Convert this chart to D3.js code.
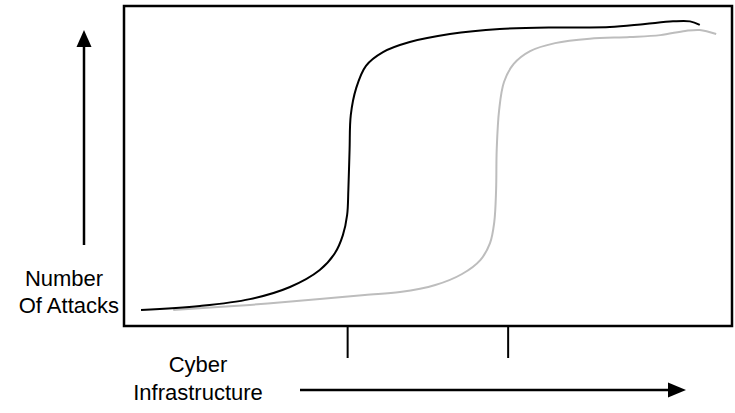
<!DOCTYPE html>
<html><head><meta charset="utf-8">
<script src="https://cdn.jsdelivr.net/npm/d3@7"></script>
<style>body{margin:0;background:#fff}svg{display:block}text{font-family:Arial,"Liberation Sans",sans-serif;fill:#000}</style>
</head><body>
<svg id="c" width="735" height="413"></svg>
<script>
// Data (arbitrary units 0-100 on both axes)
const blackX = [2.8,12.5,20.7,27.3,32.2,34.7,36.0,36.7,36.9,37.1,37.3,38.2,39.8,42.6,47.0,53.6,61.8,71.7,79.9,85.7,90.3,93.1,94.7];
const blackY = [5.0,6.25,8.4,12.2,17.5,22.8,28.4,34.7,42.5,55,65.9,74.4,81.3,85.6,88.75,91.25,92.8,93.3,93.4,94.4,95.2,95.2,94.1];
const grayX = [8.1,20.7,32.2,39.6,45.4,51.2,55.6,58.6,60.2,60.9,61.2,61.3,61.7,62.5,64.1,66.8,70.9,76.6,83.2,88.2,92.3,94.7,97.4];
const grayY = [5.0,6.6,8.4,9.7,10.6,12.8,16.25,20.6,25.9,32.5,42.5,55,67.5,76.25,81.9,85.9,88.4,89.8,90.3,90.9,92.2,92.5,91.25];
const tickValues = [36.7, 63.1];
const yLabel = ["Number", "Of Attacks"];
const xLabel = ["Cyber", "Infrastructure"];

const svg = d3.select("#c");
const L = 124, R = 732, T = 6, B = 326;
const x = d3.scaleLinear().domain([0,100]).range([L,R]);
const y = d3.scaleLinear().domain([0,100]).range([B,T]);

const line = d3.line().x(d=>x(d[0])).y(d=>y(d[1])).curve(d3.curveCatmullRom.alpha(0.5));
svg.append("path").attr("d", line(d3.zip(grayX, grayY)))
  .attr("fill","none").attr("stroke","#bdbdbd").attr("stroke-width",2);
svg.append("path").attr("d", line(d3.zip(blackX, blackY)))
  .attr("fill","none").attr("stroke","#000").attr("stroke-width",2);

// frame
svg.append("rect").attr("x",L).attr("y",T).attr("width",R-L).attr("height",B-T)
  .attr("fill","none").attr("stroke","#000").attr("stroke-width",2.5);

// ticks below the frame
const ax = svg.append("g").attr("transform",`translate(0,${B})`)
  .call(d3.axisBottom(x).tickValues(tickValues).tickSize(32).tickFormat(""));
ax.select(".domain").remove();
ax.selectAll(".tick line").attr("stroke","#000").attr("stroke-width",2);

// vertical arrow
svg.append("line").attr("x1",84).attr("x2",84).attr("y1",245).attr("y2",44)
  .attr("stroke","#000").attr("stroke-width",2.5);
svg.append("path").attr("d","M84,30 L76.5,47 L91.5,47 Z").attr("fill","#000");
// horizontal arrow
svg.append("line").attr("x1",300).attr("x2",670).attr("y1",390).attr("y2",390)
  .attr("stroke","#000").attr("stroke-width",2.5);
svg.append("path").attr("d","M686,390 L668,382.5 L668,397.5 Z").attr("fill","#000");

// labels
svg.append("text").attr("x",64).attr("y",286).attr("text-anchor","middle").attr("font-size",22).text(yLabel[0]);
svg.append("text").attr("x",119).attr("y",313).attr("text-anchor","end").attr("font-size",22).text(yLabel[1]);
svg.append("text").attr("x",198).attr("y",372).attr("text-anchor","middle").attr("font-size",22).text(xLabel[0]);
svg.append("text").attr("x",198).attr("y",400).attr("text-anchor","middle").attr("font-size",22).text(xLabel[1]);
</script>
</body></html>
